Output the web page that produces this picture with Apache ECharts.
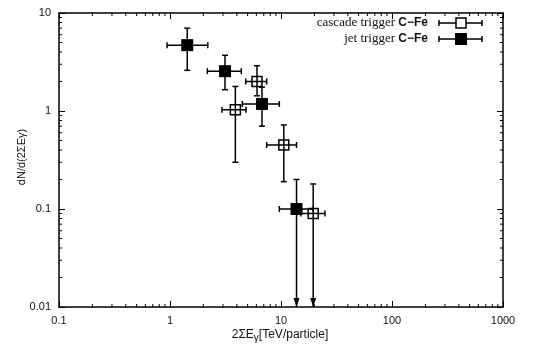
<!DOCTYPE html>
<html><head><meta charset="utf-8">
<script src="https://cdn.jsdelivr.net/npm/echarts@6/dist/echarts.min.js"></script>
<style>html,body{margin:0;padding:0;background:#fff}#c{width:546px;height:346px}</style>
</head><body><div id="c"></div>
<script>
// ---- data ----
const xTickLabels = ['0.1','1','10','100','1000'];
const yTickLabels = ['0.01','0.1','1','10'];
const xMinorTicks = [0.2,0.3,0.4,0.5,0.6,0.7,0.8,0.9,2,3,4,5,6,7,8,9,20,30,40,50,60,70,80,90,200,300,400,500,600,700,800,900];
const yMinorTicks = [0.02,0.03,0.04,0.05,0.06,0.07,0.08,0.09,0.2,0.3,0.4,0.5,0.6,0.7,0.8,0.9,2,3,4,5,6,7,8,9];

const jetX   = [1.43, 3.13, 6.74, 13.8];
const jetY   = [4.7, 2.55, 1.18, 0.1];
const jetXLo = [0.94, 2.17, 4.48, 9.66];
const jetXHi = [2.19, 4.39, 9.66, 19.5];
const jetYLo = [2.6, 1.65, 0.7, 0.01];
const jetYHi = [7.0, 3.7, 1.75, 0.2];
const jetArrow = [0, 0, 0, 1];

const casX   = [3.88, 6.08, 10.6, 19.5];
const casY   = [1.03, 2.0, 0.45, 0.09];
const casXLo = [2.94, 4.81, 7.43, 15.1];
const casXHi = [4.84, 7.43, 13.8, 24.9];
const casYLo = [0.3, 1.43, 0.19, 0.01];
const casYHi = [1.78, 2.9, 0.72, 0.18];
const casArrow = [0, 0, 0, 1];

function errData(x,y,xl,xh,yl,yh,ar){return x.map((v,i)=>[v,y[i],xl[i],xh[i],yl[i],yh[i],ar[i]]);}

const chart = echarts.init(document.getElementById('c'), null, {renderer:'canvas'});
const LS = {stroke:'#000', lineWidth:1.5};

function errRender(params, api){
  const x=api.value(0), y=api.value(1), xl=api.value(2), xh=api.value(3), yl=api.value(4), yh=api.value(5), ar=api.value(6);
  const pl=api.coord([xl,y]), ph=api.coord([xh,y]), pyl=api.coord([x,yl]), pyh=api.coord([x,yh]);
  const cap=3;
  const ch=[
    {type:'line',shape:{x1:pl[0],y1:pl[1],x2:ph[0],y2:ph[1]},style:LS},
    {type:'line',shape:{x1:pl[0],y1:pl[1]-cap,x2:pl[0],y2:pl[1]+cap},style:LS},
    {type:'line',shape:{x1:ph[0],y1:ph[1]-cap,x2:ph[0],y2:ph[1]+cap},style:LS},
    {type:'line',shape:{x1:pyh[0],y1:pyh[1],x2:pyl[0],y2:pyl[1]},style:LS},
    {type:'line',shape:{x1:pyh[0]-cap,y1:pyh[1],x2:pyh[0]+cap,y2:pyh[1]},style:LS}
  ];
  if(ar){
    ch.push({type:'polygon',shape:{points:[[pyl[0]-3,pyl[1]-9],[pyl[0]+3,pyl[1]-9],[pyl[0],pyl[1]]]},style:{fill:'#000'}});
  } else {
    ch.push({type:'line',shape:{x1:pyl[0]-cap,y1:pyl[1],x2:pyl[0]+cap,y2:pyl[1]},style:LS});
  }
  return {type:'group',children:ch};
}

function xMinorRender(params, api){
  const cs=params.coordSys; const px=api.coord([api.value(0),1])[0];
  const b=cs.y+cs.height, t=cs.y;
  return {type:'group',children:[
    {type:'line',shape:{x1:px,y1:b,x2:px,y2:b-3},style:{stroke:'#000',lineWidth:1}},
    {type:'line',shape:{x1:px,y1:t,x2:px,y2:t+3},style:{stroke:'#000',lineWidth:1}}]};
}
function yMinorRender(params, api){
  const cs=params.coordSys; const py=api.coord([1,api.value(1)])[1];
  const l=cs.x, r=cs.x+cs.width;
  return {type:'group',children:[
    {type:'line',shape:{x1:l,y1:py,x2:l+3,y2:py},style:{stroke:'#000',lineWidth:1}},
    {type:'line',shape:{x1:r,y1:py,x2:r-3,y2:py},style:{stroke:'#000',lineWidth:1}}]};
}

const axLine={show:true,lineStyle:{color:'#000',width:1.5}};
const majTick={show:true,inside:true,length:6,lineStyle:{color:'#000',width:1}};
const lblFont={fontFamily:'Liberation Sans, Arial, sans-serif',fontSize:11,color:'#111'};

chart.setOption({
  animation:false,
  backgroundColor:'#fff',
  grid:{left:59,right:43,top:13,bottom:39},
  xAxis:[
    {type:'log',logBase:10,min:0.1,max:1000,position:'bottom',axisLine:axLine,axisTick:majTick,splitLine:{show:false},
     axisLabel:Object.assign({margin:8,formatter:v=>{const i=Math.round(Math.log10(v))+1;return xTickLabels[i]!==undefined?xTickLabels[i]:'';}},lblFont)},
    {type:'log',logBase:10,min:0.1,max:1000,position:'top',axisLine:axLine,axisTick:majTick,axisLabel:{show:false},splitLine:{show:false}}
  ],
  yAxis:[
    {type:'log',logBase:10,min:0.01,max:10,position:'left',axisLine:axLine,axisTick:majTick,splitLine:{show:false},
     axisLabel:Object.assign({margin:8,formatter:v=>{const i=Math.round(Math.log10(v))+2;return yTickLabels[i]!==undefined?yTickLabels[i]:'';}},lblFont)},
    {type:'log',logBase:10,min:0.01,max:10,position:'right',axisLine:axLine,axisTick:majTick,axisLabel:{show:false},splitLine:{show:false}}
  ],
  series:[
    {type:'custom',renderItem:xMinorRender,data:xMinorTicks.map(v=>[v,1]),encode:{x:0,y:1},silent:true,clip:false,z:1},
    {type:'custom',renderItem:yMinorRender,data:yMinorTicks.map(v=>[1,v]),encode:{x:0,y:1},silent:true,clip:false,z:1},
    {type:'custom',name:'cascade err',renderItem:errRender,data:errData(casX,casY,casXLo,casXHi,casYLo,casYHi,casArrow),encode:{x:0,y:1},clip:false,z:2},
    {type:'custom',name:'jet err',renderItem:errRender,data:errData(jetX,jetY,jetXLo,jetXHi,jetYLo,jetYHi,jetArrow),encode:{x:0,y:1},clip:false,z:2},
    {type:'scatter',name:'cascade trigger C-Fe',data:casX.map((v,i)=>[v,casY[i]]),symbol:'rect',symbolSize:10,
     itemStyle:{color:'rgba(255,255,255,0)',borderColor:'#000',borderWidth:1.5,opacity:1},z:3},
    {type:'scatter',name:'jet trigger C-Fe',data:jetX.map((v,i)=>[v,jetY[i]]),symbol:'rect',symbolSize:12,
     itemStyle:{color:'#000',opacity:1},z:3}
  ],
  graphic:[
    {type:'text',x:428,y:23,style:{text:'{a|cascade trigger }{b|C−Fe}',align:'right',verticalAlign:'middle',
      rich:{a:{fontFamily:'Liberation Serif, Times New Roman, serif',fontSize:13,fill:'#111'},b:{fontFamily:'Liberation Sans, Arial, sans-serif',fontSize:12,fontWeight:'bold',fill:'#111'}}}},
    {type:'text',x:428,y:39,style:{text:'{a|jet trigger }{b|C−Fe}',align:'right',verticalAlign:'middle',
      rich:{a:{fontFamily:'Liberation Serif, Times New Roman, serif',fontSize:13,fill:'#111'},b:{fontFamily:'Liberation Sans, Arial, sans-serif',fontSize:12,fontWeight:'bold',fill:'#111'}}}},
    {type:'group',children:[
      {type:'line',shape:{x1:439,y1:23,x2:482,y2:23},style:LS},
      {type:'line',shape:{x1:439,y1:20,x2:439,y2:26},style:LS},
      {type:'line',shape:{x1:482,y1:20,x2:482,y2:26},style:LS},
      {type:'rect',shape:{x:456,y:18,width:10,height:10},style:{fill:'#fff',stroke:'#000',lineWidth:1.5}},
      {type:'line',shape:{x1:439,y1:39,x2:482,y2:39},style:LS},
      {type:'line',shape:{x1:439,y1:36,x2:439,y2:42},style:LS},
      {type:'line',shape:{x1:482,y1:36,x2:482,y2:42},style:LS},
      {type:'rect',shape:{x:455,y:33,width:12,height:12},style:{fill:'#000'}}
    ]},
    {type:'text',x:22,y:157,rotation:Math.PI/2,style:{text:'dN/d(2ΣEγ)',align:'center',verticalAlign:'middle',
      fontFamily:'Liberation Sans, Arial, sans-serif',fontSize:11,fill:'#111'}},
    {type:'text',x:280,y:335,style:{text:'{n|2ΣE}{s|γ}{n|[TeV/particle]}',align:'center',verticalAlign:'middle',
      rich:{n:{fontFamily:'Liberation Sans, Arial, sans-serif',fontSize:12,fill:'#111'},s:{fontFamily:'Liberation Sans, Arial, sans-serif',fontSize:10,fill:'#111',padding:[6,0,0,0]}}}}
  ]
});
</script></body></html>
